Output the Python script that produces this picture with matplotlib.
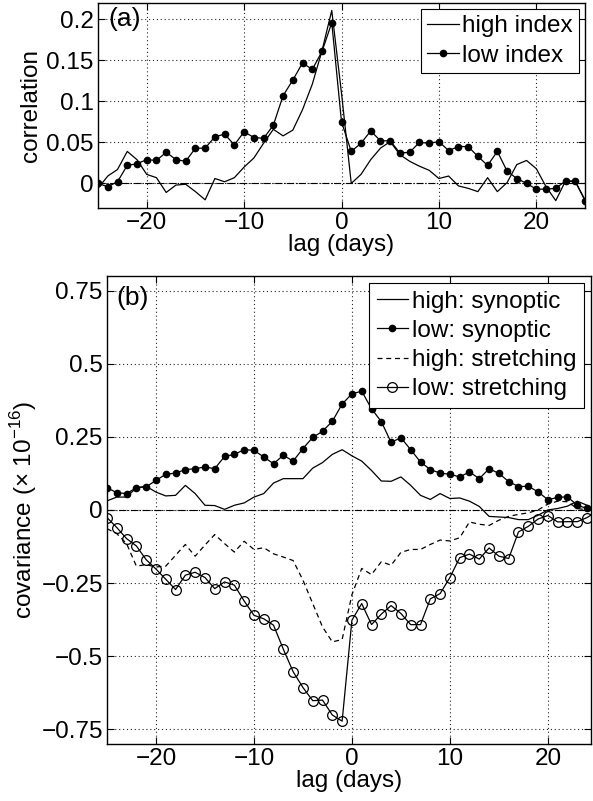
import numpy as np
import matplotlib.pyplot as plt

plt.rcParams['font.family'] = ['Liberation Sans', 'DejaVu Sans']
plt.rcParams['mathtext.fontset'] = 'custom'
plt.rcParams['mathtext.rm'] = 'Liberation Sans'
plt.rcParams['font.size'] = 17.5

# lag in days
lag = np.arange(-25, 26)

# panel (a): correlation
high_index = [-0.006, 0.009, 0.017, 0.039, 0.029, 0.011, 0.007, -0.011, -0.002, -0.001,
              -0.010, -0.020, 0.006, 0.002, 0.007, 0.020, 0.031, 0.049, 0.066, 0.058,
              0.065, 0.090, 0.121, 0.162, 0.211, 0.110, 0.000, 0.011, 0.029, 0.043,
              0.051, 0.035, 0.027, 0.021, 0.016, 0.006, 0.009, -0.003, -0.006, -0.010,
              0.007, -0.010, 0.001, 0.023, 0.028, 0.018, -0.004, -0.021, 0.003, 0.002,
              -0.020]
low_index = [0.000, -0.004, 0.002, 0.022, 0.024, 0.029, 0.028, 0.038, 0.029, 0.027,
             0.043, 0.043, 0.057, 0.060, 0.047, 0.063, 0.056, 0.055, 0.071, 0.107,
             0.126, 0.147, 0.139, 0.161, 0.196, 0.075, 0.039, 0.049, 0.064, 0.052,
             0.052, 0.037, 0.038, 0.050, 0.049, 0.051, 0.040, 0.045, 0.045, 0.033,
             0.022, 0.039, 0.015, 0.006, 0.000, -0.007, -0.007, -0.006, 0.003, 0.003,
             -0.021]

# panel (b): covariance (x 1e-16)
high_syn = [0.031, 0.044, 0.044, 0.076, 0.081, 0.061, 0.048, 0.050, 0.084, 0.056,
            0.016, 0.015, 0.002, 0.016, 0.024, 0.044, 0.056, 0.092, 0.107, 0.107,
            0.107, 0.143, 0.162, 0.190, 0.206, 0.185, 0.167, 0.135, 0.099, 0.098,
            0.113, 0.084, 0.050, 0.036, 0.056, 0.039, 0.041, 0.030, 0.012, -0.022,
            -0.024, -0.026, -0.033, -0.033, -0.018, 0.000, 0.005, 0.013, 0.030, 0.016,
            0.000]
low_syn = [0.076, 0.059, 0.056, 0.076, 0.079, 0.101, 0.122, 0.126, 0.138, 0.141,
           0.147, 0.141, 0.183, 0.190, 0.206, 0.204, 0.181, 0.158, 0.187, 0.167,
           0.210, 0.248, 0.269, 0.303, 0.362, 0.397, 0.406, 0.346, 0.302, 0.231,
           0.247, 0.206, 0.164, 0.138, 0.126, 0.122, 0.113, 0.130, 0.107, 0.141,
           0.125, 0.097, 0.080, 0.081, 0.062, 0.035, 0.043, 0.045, 0.016, 0.005,
           0.000]
high_str = [-0.064, -0.081, -0.115, -0.192, -0.187, -0.195, -0.192, -0.155, -0.118, -0.158,
            -0.120, -0.084, -0.115, -0.144, -0.107, -0.135, -0.129, -0.150, -0.161, -0.173,
            -0.240, -0.320, -0.400, -0.451, -0.443, -0.290, -0.200, -0.221, -0.177, -0.189,
            -0.145, -0.135, -0.135, -0.118, -0.103, -0.106, -0.095, -0.041, -0.049, -0.053,
            -0.035, -0.022, -0.015, -0.010, 0.000, 0.020, 0.030, 0.028, 0.005, 0.000,
            0.010]
low_str = [-0.026, -0.060, -0.098, -0.123, -0.170, -0.202, -0.237, -0.272, -0.223, -0.213,
           -0.231, -0.269, -0.246, -0.257, -0.311, -0.360, -0.372, -0.394, -0.476, -0.553,
           -0.607, -0.652, -0.650, -0.701, -0.722, -0.377, -0.320, -0.392, -0.356, -0.327,
           -0.354, -0.392, -0.392, -0.304, -0.286, -0.231, -0.163, -0.151, -0.168, -0.130,
           -0.158, -0.166, -0.075, -0.056, -0.031, -0.019, -0.041, -0.040, -0.040, -0.026,
           -0.005]

xticks = [-20, -10, 0, 10, 20]
yticks_a = [0, 0.05, 0.1, 0.15, 0.2]
yticks_b = [-0.75, -0.5, -0.25, 0, 0.25, 0.5, 0.75]

fig = plt.figure(figsize=(5.93, 8.01), dpi=100)
ax1 = fig.add_axes([0.1653, 0.7403, 0.8212, 0.2559])
ax2 = fig.add_axes([0.1804, 0.0712, 0.8162, 0.5843])


def style(ax):
    ax.grid(True, color='0.15', linestyle=(0, (1, 2.5)), linewidth=0.8)
    ax.axhline(0, color='k', linestyle='-.', linewidth=0.8)
    ax.tick_params(direction='in', top=True, right=True, length=5, width=0.8, pad=3)
    ax.set_xticks(xticks)
    for s in ax.spines.values():
        s.set_linewidth(1.0)


# ---- (a) ----
ax1.plot(lag, high_index, 'k-', lw=0.9, label='high index')
ax1.plot(lag, low_index, 'k-', lw=0.9, marker='o', ms=4.5, label='low index')
style(ax1)
ax1.set_xlim(-25, 25)
ax1.set_ylim(-0.03, 0.22)
ax1.set_yticks(yticks_a)
ax1.set_yticklabels(['0', '0.05', '0.1', '0.15', '0.2'])
ax1.set_xlabel('lag (days)', labelpad=0)
ax1.set_ylabel('correlation', labelpad=3)
ax1.text(0.022, 0.92, '(a)', transform=ax1.transAxes, fontsize=19, va='center')
leg1 = ax1.legend(loc='upper right', handlelength=1.3, handletextpad=0.15,
                  borderpad=0.25, labelspacing=0.3, borderaxespad=0.25,
                  fancybox=False, framealpha=1, edgecolor='k')
leg1.get_frame().set_linewidth(0.8)

# ---- (b) ----
ax2.plot(lag, high_syn, 'k-', lw=0.9, label='high: synoptic')
ax2.plot(lag, low_syn, 'k-', lw=0.9, marker='o', ms=4.5, label='low: synoptic')
ax2.plot(lag, high_str, 'k--', lw=0.9, dashes=(4, 3), label='high: stretching')
ax2.plot(lag, low_str, 'k-', lw=0.9, marker='o', ms=7, mfc='none', mew=0.9,
         label='low: stretching')
style(ax2)
ax2.set_xlim(-25, 24.4)
ax2.set_ylim(-0.8, 0.8)
ax2.set_yticks(yticks_b)
ax2.set_yticklabels(['\u22120.75', '\u22120.5', '\u22120.25', '0', '0.25', '0.5', '0.75'])
ax2.set_xlabel('lag (days)', labelpad=0)
ax2.set_ylabel('covariance (\u00d7 10$^{\\mathregular{-16}}$)', labelpad=2)
ax2.text(0.02, 0.953, '(b)', transform=ax2.transAxes, fontsize=19, va='center')
leg2 = ax2.legend(loc='upper right', handlelength=1.3, handletextpad=0.15,
                  borderpad=0.3, labelspacing=0.3, borderaxespad=0.3,
                  fancybox=False, framealpha=1, edgecolor='k')
leg2.get_frame().set_linewidth(0.8)

fig.savefig('out.png', dpi=100)
